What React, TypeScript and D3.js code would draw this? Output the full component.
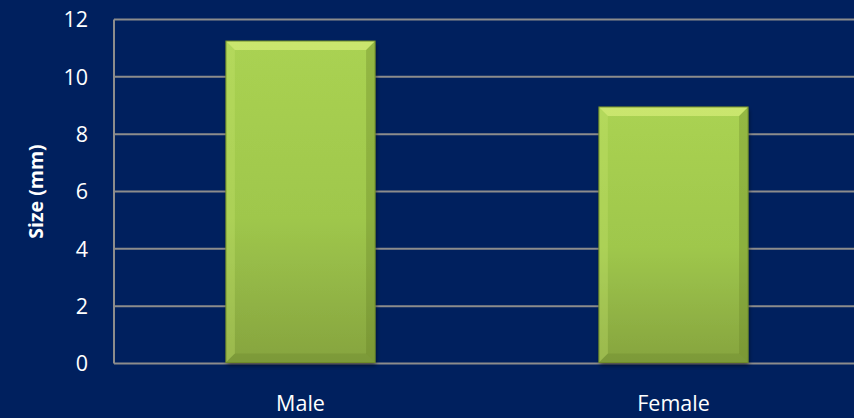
import React from "react";
import * as d3 from "d3";

const categories = ["Male", "Female"];
const values = [11.25, 8.95];
const yTicks = [0, 2, 4, 6, 8, 10, 12];
const yTitle = "Size (mm)";

const W = 854;
const H = 418;
const M = { left: 114, right: -6, top: 19.5, bottom: 54.5 };

export default function App() {
  const x = d3
    .scaleBand<string>()
    .domain(categories)
    .range([M.left, W - M.right])
    .paddingInner(0.6)
    .paddingOuter(0.3);
  const y = d3.scaleLinear().domain([0, 12]).range([H - M.bottom, M.top]);
  const bw = x.bandwidth();
  const bev = 9;
  const font = "'Open Sans', sans-serif";

  return (
    <svg
      width={W}
      height={H}
      style={{ position: "absolute", left: 0, top: 0, display: "block" }}
    >
      <defs>
        <linearGradient id="barG" x1="0" y1="0" x2="0" y2="1">
          <stop offset="0" stopColor="#AAD252" />
          <stop offset="0.55" stopColor="#9FC74C" />
          <stop offset="1" stopColor="#86A43F" />
        </linearGradient>
        <filter id="sh" x="-10%" y="-10%" width="120%" height="130%">
          <feGaussianBlur in="SourceAlpha" stdDeviation="2" />
          <feOffset dx="1" dy="3" result="b" />
          <feComponentTransfer>
            <feFuncA type="linear" slope="0.5" />
          </feComponentTransfer>
          <feMerge>
            <feMergeNode />
            <feMergeNode in="SourceGraphic" />
          </feMerge>
        </filter>
      </defs>
      <rect x={0} y={0} width={W} height={H} fill="#00205E" />
      {yTicks.map((t) => (
        <line
          key={t}
          x1={M.left}
          x2={W}
          y1={y(t)}
          y2={y(t)}
          stroke="#8C8C8C"
          strokeWidth={2}
        />
      ))}
      <line
        x1={M.left}
        x2={M.left}
        y1={y(12)}
        y2={y(0)}
        stroke="#8C8C8C"
        strokeWidth={2}
      />
      {yTicks.map((t) => (
        <text
          key={t}
          x={88}
          y={y(t)}
          dy="0.36em"
          textAnchor="end"
          fill="#FFFFFF"
          fontFamily={font}
          fontSize={21.5}
        >
          {t}
        </text>
      ))}
      {categories.map((c, i) => {
        const x0 = x(c)!;
        const y0 = y(values[i]);
        const y1 = y(0) - 1;
        const x1 = x0 + bw;
        return (
          <g key={c}>
            <rect
              x={x0}
              y={y0}
              width={bw}
              height={y1 - y0}
              fill="url(#barG)"
              filter="url(#sh)"
            />
            <polygon
              points={`${x0},${y0} ${x1},${y0} ${x1 - bev},${y0 + bev} ${x0 + bev},${y0 + bev}`}
              fill="#E4F585"
              opacity={0.55}
            />
            <polygon
              points={`${x0},${y0} ${x0 + bev},${y0 + bev} ${x0 + bev},${y1 - bev} ${x0},${y1}`}
              fill="#C9E870"
              opacity={0.3}
            />
            <polygon
              points={`${x1},${y0} ${x1 - bev},${y0 + bev} ${x1 - bev},${y1 - bev} ${x1},${y1}`}
              fill="#5F7A22"
              opacity={0.3}
            />
            <polygon
              points={`${x0},${y1} ${x0 + bev},${y1 - bev} ${x1 - bev},${y1 - bev} ${x1},${y1}`}
              fill="#5F7A22"
              opacity={0.25}
            />
            <rect
              x={x0}
              y={y0}
              width={bw}
              height={y1 - y0}
              fill="none"
              stroke="#6E8A2A"
              strokeWidth={1}
            />
          </g>
        );
      })}
      {categories.map((c) => (
        <text
          key={c}
          x={x(c)! + bw / 2}
          y={403}
          dy="0.36em"
          textAnchor="middle"
          fill="#FFFFFF"
          fontFamily={font}
          fontSize={21.5}
        >
          {c}
        </text>
      ))}
      <text
        transform={`translate(36,${(y(0) + y(12)) / 2}) rotate(-90)`}
        textAnchor="middle"
        dy="0.36em"
        fill="#FFFFFF"
        fontFamily={font}
        fontSize={19.5}
        fontWeight="bold"
      >
        {yTitle}
      </text>
    </svg>
  );
}
